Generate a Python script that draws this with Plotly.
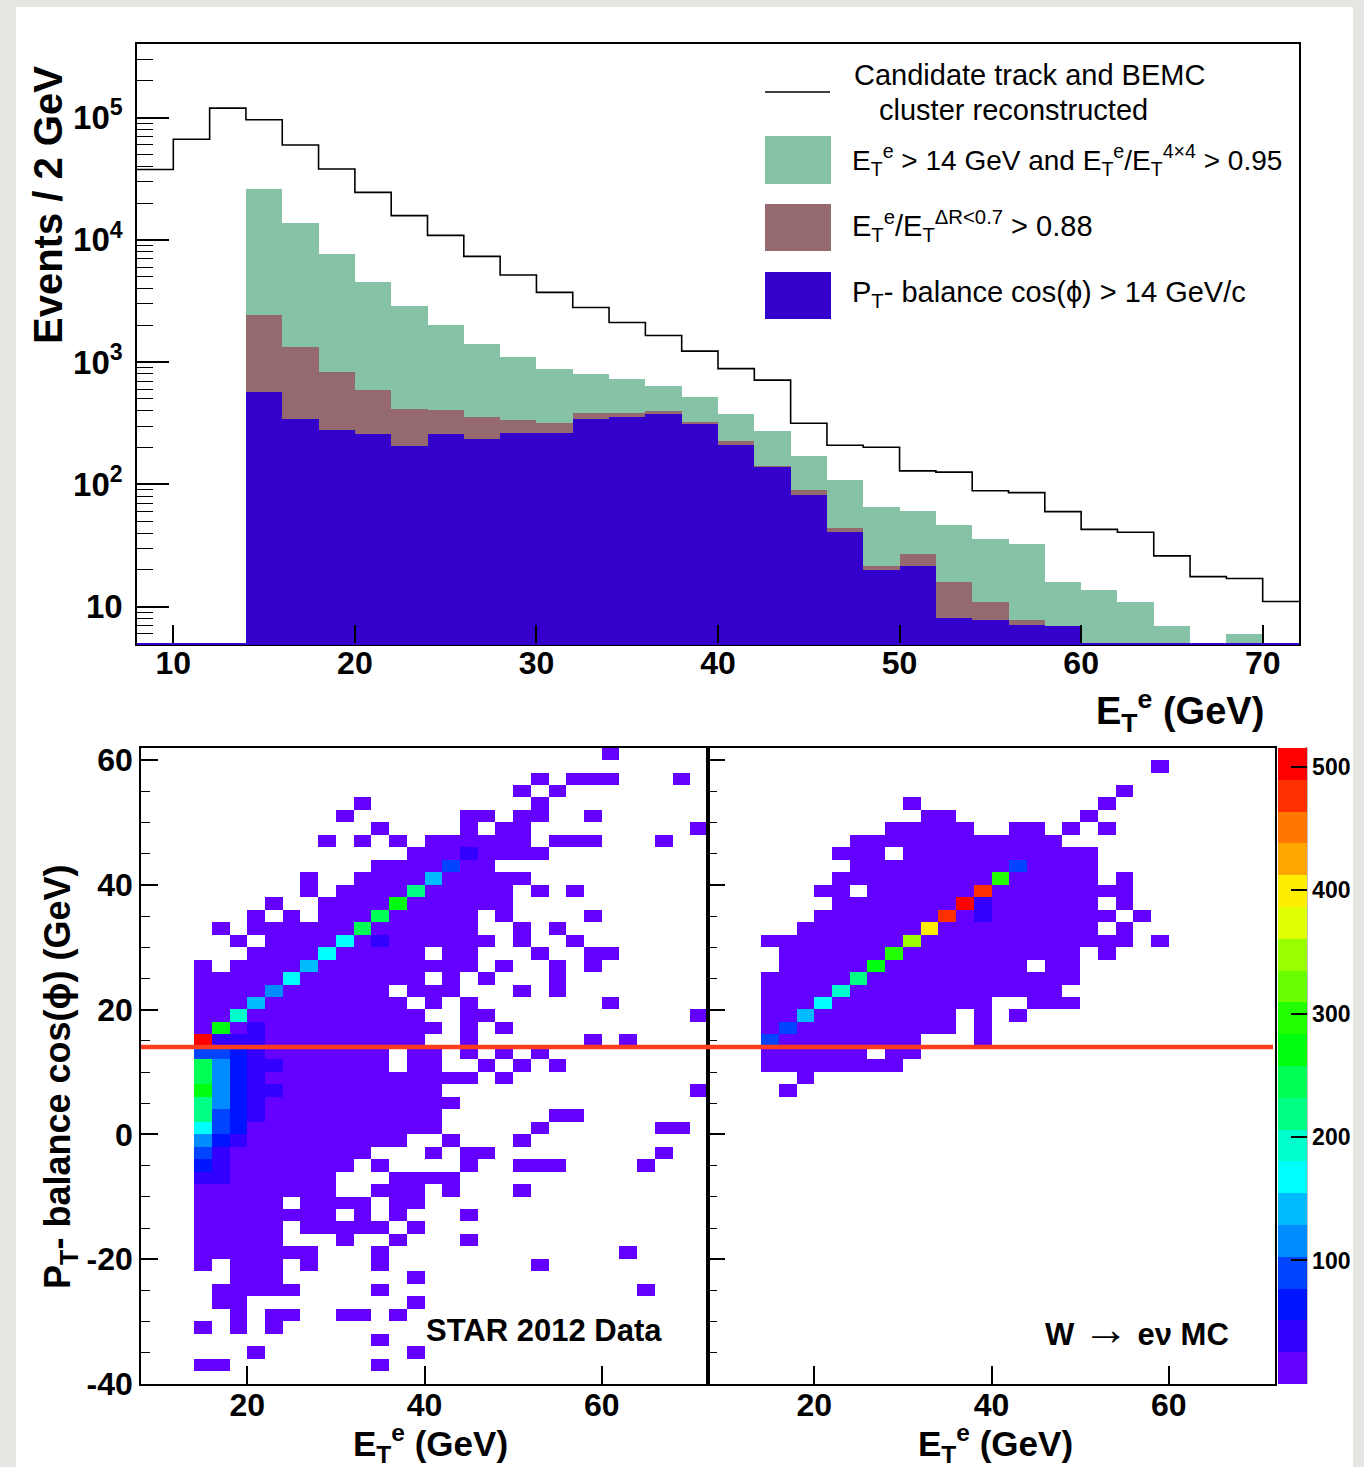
import colorsys
import plotly.graph_objects as go

W, H = 1364, 1467
FONT = "Liberation Sans, Arial, Helvetica, sans-serif"


def px(x):
    return x / W


def py(y):
    return 1 - y / H


# ---------------- Top panel: events per 2 GeV bin ----------------
et_bin_low = [8, 10, 12, 14, 16, 18, 20, 22, 24, 26, 28, 30, 32, 34, 36, 38,
              40, 42, 44, 46, 48, 50, 52, 54, 56, 58, 60, 62, 64, 66, 68, 70]
et_bin_mid = [9, 11, 13, 15, 17, 19, 21, 23, 25, 27, 29, 31, 33, 35, 37, 39,
              41, 43, 45, 47, 49, 51, 53, 55, 57, 59, 61, 63, 65, 67, 69, 71]

n_candidate = [37700, 66600, 119700, 96300, 59800, 38000, 24500, 15800, 10900, 7330,
               5160, 3720, 2800, 2110, 1650, 1230, 885, 713, 316, 209, 201, 129,
               126, 88.7, 85.6, 59.8, 42.8, 40.6, 26.0, 17.6, 17.0, 11.0]
n_et_cut = [None, None, None, 26200, 14000, 7680, 4590, 2910, 2040, 1425, 1115, 885,
            810, 729, 643, 525, 377, 277, 173, 109, 65.8, 61.2, 47.1, 35.8, 32.9,
            16.0, 13.8, 11.0, 7.06, None, 6.08, None]
n_iso_cut = [None, None, None, 2440, 1343, 846, 592, 414, 408, 357, 339, 319, 387,
             387, 399, 329, 228, 144, 90, 44.5, 21.6, 27, 16, 11, 7.9, 7.06,
             None, None, None, None, None, None]
n_ptbal_cut = [None, None, None, 570, 344, 281, 261, 209, 263, 237, 265, 265, 346,
               357, 379, 312, 212, 139, 82, 41.2, 20.2, 21.8, 8.2, 7.9, 7.2, 7.06,
               None, None, None, None, None, None]

# ---------------- Bottom panels: 2D histograms ----------------
h2_x_mid = et_bin_mid
h2_y_mid = [-39, -37, -35, -33, -31, -29, -27, -25, -23, -21, -19, -17, -15, -13, -11,
            -9, -7, -5, -3, -1, 1, 3, 5, 7, 9, 11, 13, 15, 17, 19, 21, 23, 25, 27, 29,
            31, 33, 35, 37, 39, 41, 43, 45, 47, 49, 51, 53, 55, 57, 59, 61]

# representative count for each colour band (20 contour levels, 0 .. 515)
band_count = [13, 39, 64, 90, 116, 142, 168, 193, 219, 245,
              271, 296, 322, 348, 374, 399, 425, 451, 477, 505]

# rows from top (y = 60..62) to bottom (y = -40..-38);
# items are x-bin indices (0 = 8..10 GeV), "a-b" ranges, ":k" = colour band (default 0)
data_rows = [
    "26", "", "22,24-26,30", "21,23", "12,22", "11,18-19,21-22,25",
    "13,18,20-21,31", "10,12,14,16-21,23-25,29", "15-17,18:1,19-22",
    "13-16,17:3,18-19", "9,12-15,16:5,17-21", "9,11-14,15:8,16-20,22,24",
    "7,10-13,14:10,15-20", "6,8,10-12,13:9,14-18,20,25", "4,6-11,12:9,13-18,21,23",
    "5,7-10,11:6,12,13:1,14-19,21,24", "6-9,10:6,11-15,17-18,22,25-26",
    "3,5-8,9:5,10-18,20,23,25", "3-7,8:6,9-15,17,19,23", "3-6,7:4,8-13,15-17,21,23",
    "3-5,6:5,7-14,16,18,26", "3-4,5:7,6-15,18-19,31", "3,4:10,5,6:1,7-16,18,20",
    "3:19,4-6:1,7-15,18,25,27", "3-4:3,5:2,6:1,7-13,15-16,18,20,22",
    "3:9,4:4,5:2,6-7:1,8-13,15-16,19,21,23", "3:9,4:4,5:2,6:1,7-18,20",
    "3:10,4:4,5:2,6-7:1,8-16,31", "3:8,4:4,5:2,6:1,7-17", "3:8,4:3,5:2,6:1,7-16,23-24",
    "3:6,4:3,5:2,6-16,22,29-30", "3:4,4:2,5:1,6-14,17,21", "3:3,4:1,5-12,16,18-19,29",
    "3:2,4:1,5-11,13,18,21-23,28", "3-4:1,5-10,14-17", "3-10,13-15,17,21",
    "3-7,9-12,14-15", "3-10,12,14,18", "3-7,9-13,15", "3-7,11,14,18", "3-9,13,27",
    "3,5-7,9,13,22", "5-7,15", "4-8,13,28", "4-5,15", "5,7-8,11-12,14", "3,5,7",
    "13", "6,15", "3-4,13", "",
]
mc_rows = [
    "", "25", "", "23", "11,22", "12-13,21", "10-14,17-18,20,22", "8-19",
    "7-9,11-21", "8-16,17:3,18-21", "7-15,16:11,17-21,23",
    "6-7,9-14,15:18,16-23", "7-13,14:19,15:1,16-21,23",
    "6-12,13:18,14,15:1,16-22,24", "5-11,12:15,13-21,23", "3-10,11:13,12-23,25",
    "4-9,10:11,11-20,22", "4-8,9:10,10-17,19-20", "3-7,8:8,9-20", "3-6,7:7,8-19",
    "3-5,6:6,7-15,18-20", "3-4,5:5,6-13,15,17", "3,4:3,5-13,15", "3:3,4-11,15",
    "3-8,10-11", "3-10", "5", "4",
    "", "", "", "", "", "", "", "", "", "", "", "", "", "", "", "", "", "", "", "", "", "", "",
]

Z_MAX = 515.6
N_LEVELS = 20


def grid_to_z(rows, ncols=32):
    z = []
    for spec in rows:
        row = [None] * ncols
        if spec:
            for item in spec.split(","):
                rng, _, band = item.partition(":")
                band = int(band) if band else 0
                a, _, b = rng.partition("-")
                a = int(a)
                b = int(b) if b else a
                for c in range(a, b + 1):
                    row[c] = band_count[band]
        z.append(row)
    return z[::-1]  # bottom row first


z_data = grid_to_z(data_rows)
z_mc = grid_to_z(mc_rows)

# ROOT "pretty" palette (50 colours, hue 280 -> 0), sampled for 20 contours
palette50 = []
for i in range(50):
    hue = 280 - (i + 1) * 5.6
    r, g, b = colorsys.hls_to_rgb(hue / 360.0, 0.5, 1.0)
    palette50.append("rgb(%d,%d,%d)" % (round(r * 255), round(g * 255), round(b * 255)))
colorscale = []
for k in range(N_LEVELS):
    idx = int((k + 0.99) * 50 / N_LEVELS)
    c = palette50[idx]
    colorscale.append([k / N_LEVELS, c])
    colorscale.append([(k + 1) / N_LEVELS, c])

fig = go.Figure()

# ---------------- top panel traces ----------------
fig.add_trace(go.Bar(x=et_bin_mid, y=n_et_cut, width=2, marker=dict(color="#86c2a6", line=dict(width=0)),
                     xaxis="x", yaxis="y", showlegend=False))
fig.add_trace(go.Bar(x=et_bin_mid, y=n_iso_cut, width=2, marker=dict(color="#946a6e", line=dict(width=0)),
                     xaxis="x", yaxis="y", showlegend=False))
fig.add_trace(go.Bar(x=et_bin_mid, y=n_ptbal_cut, width=2, marker=dict(color="#3300cc", line=dict(width=0)),
                     xaxis="x", yaxis="y", showlegend=False))
fig.add_trace(go.Scatter(x=et_bin_low + [72], y=n_candidate + [n_candidate[-1]], mode="lines",
                         line=dict(shape="hv", color="black", width=1.6),
                         xaxis="x", yaxis="y", showlegend=False))

# ---------------- bottom panel traces ----------------
fig.add_trace(go.Heatmap(x=h2_x_mid, y=h2_y_mid, z=z_data, coloraxis="coloraxis",
                         xaxis="x2", yaxis="y2", hoverongaps=False))
fig.add_trace(go.Heatmap(x=h2_x_mid, y=h2_y_mid, z=z_mc, coloraxis="coloraxis",
                         xaxis="x3", yaxis="y3", hoverongaps=False))

tickfont = dict(family=FONT, size=32, color="black", weight="bold")
axis_common = dict(showgrid=False, zeroline=False, showline=True, mirror=True,
                   linecolor="black", linewidth=1.6, ticks="inside",
                   tickcolor="black", tickwidth=1.5, automargin=False)

minor_log = [m * 10 ** e for e in range(0, 6) for m in range(2, 10) if 4.9 < m * 10 ** e < 4e5]
y2_ticks = [-40, -20, 0, 20, 40, 60]
y2_text = ["-40", "-20", "0", "20", "40", "60"]

fig.update_layout(
    width=W, height=H,
    margin=dict(l=0, r=0, t=0, b=0, autoexpand=False),
    paper_bgcolor="#e6e6e3",
    plot_bgcolor="white",
    barmode="overlay",
    bargap=0,
    showlegend=False,
    xaxis=dict(domain=[px(137), px(1299)], range=[8, 72], anchor="y",
               tickvals=[10, 20, 30, 40, 50, 60, 70], ticklen=19,
               tickfont=tickfont, ticklabelstandoff=-10, **axis_common),
    yaxis=dict(domain=[py(644), py(43.5)], type="log", range=[0.694, 5.607], anchor="x",
               tickvals=[10, 100, 1000, 1e4, 1e5],
               ticktext=["10", "10<sup>2</sup>", "10<sup>3</sup>", "10<sup>4</sup>", "10<sup>5</sup>"],
               ticklen=32, tickfont=dict(family=FONT, size=33, color="black", weight="bold"),
               ticklabelstandoff=6,
               minor=dict(tickvals=minor_log, ticks="inside", ticklen=16, tickcolor="black",
                          tickwidth=1.2, showgrid=False),
               **axis_common),
    xaxis2=dict(domain=[px(141), px(708)], range=[8, 72], anchor="y2",
                tickvals=[20, 40, 60], ticklen=18, tickfont=tickfont,
                ticklabelstandoff=-8, **axis_common),
    yaxis2=dict(domain=[py(1384), py(747.6)], range=[-40, 62], anchor="x2",
                tickvals=y2_ticks, ticktext=y2_text, ticklen=17, tickfont=tickfont,
                ticklabelstandoff=0,
                minor=dict(dtick=5, ticks="inside", ticklen=9, tickcolor="black",
                           tickwidth=1.2, showgrid=False),
                **axis_common),
    xaxis3=dict(domain=[px(708), px(1275)], range=[8, 72], anchor="y3",
                tickvals=[20, 40, 60], ticklen=18, tickfont=tickfont,
                ticklabelstandoff=-8, **axis_common),
    yaxis3=dict(domain=[py(1384), py(747.6)], range=[-40, 62], anchor="x3",
                tickvals=y2_ticks, ticklen=17, showticklabels=False,
                minor=dict(dtick=5, ticks="inside", ticklen=9, tickcolor="black",
                           tickwidth=1.2, showgrid=False),
                **axis_common),
    coloraxis=dict(
        colorscale=colorscale, cmin=0, cmax=Z_MAX,
        colorbar=dict(x=px(1278), xanchor="left", y=py((1384 + 747.6) / 2), yanchor="middle",
                      thickness=29, thicknessmode="pixels",
                      len=(1384 - 747.6) / H, lenmode="fraction",
                      outlinewidth=0, xpad=0, ypad=0,
                      tickvals=[100, 200, 300, 400, 500], ticks="inside", ticklen=16,
                      tickwidth=1.5, tickcolor="black",
                      tickfont=dict(family=FONT, size=23, color="black", weight="bold")),
    ),
)

shapes = [
    # white canvas
    dict(type="rect", xref="paper", yref="paper", x0=px(16), x1=px(1353), y0=py(1467), y1=py(7),
         fillcolor="white", line=dict(width=0), layer="below"),
    # blue baseline of the top histogram
    dict(type="line", xref="paper", yref="paper", x0=px(137), x1=px(1299), y0=py(644), y1=py(644),
         line=dict(color="#3300cc", width=2)),
    # palette axis line
    dict(type="line", xref="paper", yref="paper", x0=px(1306.5), x1=px(1306.5), y0=py(1384), y1=py(747.6),
         line=dict(color="black", width=1.5)),
    # cut line at 14 GeV
    dict(type="line", xref="paper", yref="y2", x0=px(141), x1=px(1273), y0=14, y1=14,
         line=dict(color="#ff3c1e", width=4.5)),
    # legend samples
    dict(type="line", xref="paper", yref="paper", x0=px(765), x1=px(830), y0=py(92), y1=py(92),
         line=dict(color="black", width=1.5)),
    dict(type="rect", xref="paper", yref="paper", x0=px(765), x1=px(831), y0=py(184), y1=py(136),
         fillcolor="#86c2a6", line=dict(width=0)),
    dict(type="rect", xref="paper", yref="paper", x0=px(765), x1=px(831), y0=py(251), y1=py(204),
         fillcolor="#946a6e", line=dict(width=0)),
    dict(type="rect", xref="paper", yref="paper", x0=px(765), x1=px(831), y0=py(319), y1=py(272),
         fillcolor="#3300cc", line=dict(width=0)),
]
fig.update_layout(shapes=shapes)

leg_font = dict(family=FONT, size=29, color="black")
bold = lambda s: dict(family=FONT, size=s, color="black", weight="bold")


def ann(text, x, y, font, xanchor="left", yanchor="middle", angle=0):
    fig.add_annotation(text=text, x=px(x), y=py(y), xref="paper", yref="paper",
                       xanchor=xanchor, yanchor=yanchor, showarrow=False,
                       font=font, textangle=angle)


ann("Candidate track and BEMC", 852, 75, leg_font)
ann("cluster reconstructed", 877, 110, leg_font)
ann("E<sub>T</sub><sup>e</sup> &gt; 14 GeV and E<sub>T</sub><sup>e</sup>/E<sub>T</sub><sup>4×4</sup> &gt; 0.95",
    850, 160, dict(family=FONT, size=28, color="black"))
ann("E<sub>T</sub><sup>e</sup>/E<sub>T</sub><sup>ΔR&lt;0.7</sup> &gt; 0.88", 850, 226, leg_font)
ann("P<sub>T</sub>- balance cos(ϕ) &gt; 14 GeV/c", 850, 294, leg_font)

ann("Events / 2 GeV", 48, 205, bold(40), xanchor="center", angle=-90)
ann("E<sub>T</sub><sup>e</sup> (GeV)", 1266, 711, bold(38), xanchor="right")
ann("P<sub>T</sub>- balance cos(ϕ) (GeV)", 60, 1077, bold(36), xanchor="center", angle=-90)
ann("E<sub>T</sub><sup>e</sup> (GeV)", 430, 1443, bold(35), xanchor="center")
ann("E<sub>T</sub><sup>e</sup> (GeV)", 995, 1443, bold(35), xanchor="center")
ann("STAR 2012 Data", 424, 1330, bold(31))
ann("W <span style='font-size:46px'>→</span> eν MC", 1231, 1329, bold(31), xanchor="right")

fig.write_html("out.html")
